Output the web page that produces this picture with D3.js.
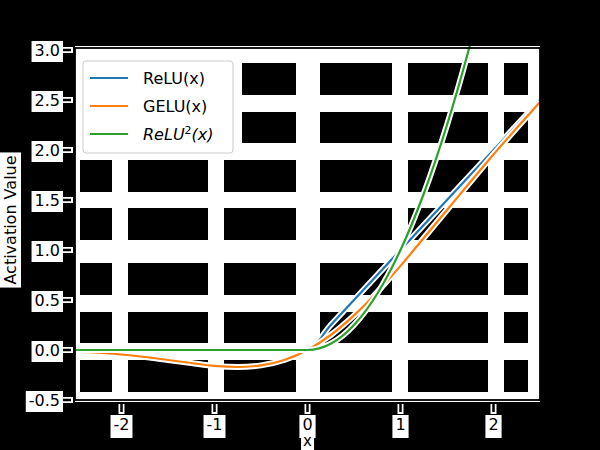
<!DOCTYPE html><html><head><script src="https://cdn.jsdelivr.net/npm/d3@7"></script>
<style>body{margin:0;background:#000}svg{display:block}text{font-family:"DejaVu Sans"}</style></head><body>
<script>
const xs=[-2.5,-2.25,-2,-1.75,-1.5,-1.25,-1,-0.75,-0.5,-0.25,0,0.25,0.5,0.75,1,1.25,1.5,1.75,2,2.25,2.5];
const relu=[0,0,0,0,0,0,0,0,0,0,0,0.25,0.5,0.75,1,1.25,1.5,1.75,2,2.25,2.5];
const gelu=[-0.016,-0.027,-0.045,-0.07,-0.10,-0.13,-0.159,-0.17,-0.154,-0.10,0,0.15,0.346,0.58,0.841,1.12,1.40,1.68,1.955,2.22,2.48];
const relu2=[0,0,0,0,0,0,0,0,0,0,0,0.0625,0.25,0.5625,1,1.5625,2.25,3.06,4,5.06,6.25];
const xTicks=[-2,-1,0,1,2], yTicks=[-0.5,0,0.5,1,1.5,2,2.5,3];
const seriesNames=["ReLU(x)","GELU(x)","ReLU²(x)"], colors=["#1f77b4","#ff7f0e","#2ca02c"];
const W=600,H=450,L=75,R=540,T=50,B=400;
const svg=d3.select("body").append("svg").attr("width",W).attr("height",H);
svg.append("rect").attr("width",W).attr("height",H).attr("fill","#000");
const x=d3.scaleLinear([-2.5,2.5],[L,R]), y=d3.scaleLinear([-0.5,3],[B,T]);
svg.append("rect").attr("x",L).attr("y",T-4).attr("width",R-L).attr("height",B-T+6).attr("fill","#fff");
const cols=[[80,112],[128,208],[224,296],[320,392],[408,488],[504,528]], rows=[[63,95],[112,143],[160,192],[208,240],[263,295],[312,343],[360,392]];
rows.forEach(r=>cols.forEach(c=>svg.append("rect").attr("x",c[0]).attr("y",r[0]).attr("width",c[1]-c[0]).attr("height",r[1]-r[0]).attr("fill","#000")));
svg.append("clipPath").attr("id","cp").append("rect").attr("x",L).attr("y",T-4).attr("width",R-L).attr("height",B-T+4);
const g=svg.append("g").attr("clip-path","url(#cp)");
const line=d3.line().x((d,i)=>x(xs[i])).y(d=>y(d)).curve(d3.curveMonotoneX);
[relu,gelu,relu2].forEach((s,k)=>{
 g.append("path").attr("d",line(s)).attr("fill","none").attr("stroke","#fff").attr("stroke-width",6);
 g.append("path").attr("d",line(s)).attr("fill","none").attr("stroke",colors[k]).attr("stroke-width",2.2);
});
svg.append("rect").attr("x",L).attr("y",T-2).attr("width",R-L).attr("height",B-T+2).attr("fill","none").attr("stroke","#000").attr("stroke-width",1.8);
xTicks.forEach(t=>{
 svg.append("rect").attr("x",x(t)-3).attr("y",B+4).attr("width",6).attr("height",10).attr("fill","#fff");
 svg.append("line").attr("x1",x(t)).attr("x2",x(t)).attr("y1",B+4).attr("y2",B+12).attr("stroke","#000").attr("stroke-width",2.5);
 const tx=svg.append("text").attr("x",x(t)).attr("y",B+30).attr("text-anchor","middle").attr("font-size",16).text(t<0?"-"+(-t):t);
 const bb=tx.node().getBBox();svg.insert("rect","text").attr("x",bb.x-3).attr("y",bb.y).attr("width",bb.width+6).attr("height",bb.height+4).attr("fill","#fff");
});
yTicks.forEach(t=>{
 svg.append("rect").attr("x",L-14).attr("y",y(t)-3).attr("width",12).attr("height",6).attr("fill","#fff");
 svg.append("line").attr("x1",L-12).attr("x2",L-4).attr("y1",y(t)).attr("y2",y(t)).attr("stroke","#000").attr("stroke-width",2.5);
 const tx=svg.append("text").attr("x",L-15).attr("y",y(t)+6).attr("text-anchor","end").attr("font-size",16).text(t<0?"-"+(-t).toFixed(1):t.toFixed(1));
 const bb=tx.node().getBBox();svg.insert("rect","text").attr("x",bb.x-3).attr("y",bb.y).attr("width",bb.width+6).attr("height",bb.height+2).attr("fill","#fff");
});
let xl=svg.append("text").attr("x",x(0)).attr("y",446).attr("text-anchor","middle").attr("font-size",15).text("x");
let b=xl.node().getBBox();svg.insert("rect","text").attr("x",b.x-2).attr("y",b.y).attr("width",b.width+4).attr("height",b.height).attr("fill","#fff");
let yl=svg.append("text").attr("transform",`translate(16,${(T+B)/2-5}) rotate(-90)`).attr("text-anchor","middle").attr("font-size",16).text("Activation Value");
b=yl.node().getBoundingClientRect();svg.insert("rect","text").attr("x",b.x-1).attr("y",b.y-3).attr("width",b.width+2).attr("height",b.height+6).attr("fill","#fff");
const lg=svg.append("g");
lg.append("rect").attr("x",78).attr("y",56).attr("width",164).attr("height",102).attr("fill","#fff");
lg.append("rect").attr("x",83).attr("y",61).attr("width",150).attr("height",92).attr("rx",3).attr("fill","#fff").attr("stroke","#ccc");
seriesNames.forEach((n,i)=>{
 const yy=78+i*28;
 lg.append("line").attr("x1",90).attr("x2",128).attr("y1",yy).attr("y2",yy).attr("stroke",colors[i]).attr("stroke-width",2.2);
 const t=lg.append("text").attr("x",143).attr("y",yy+6).attr("font-size",16);
 if(i<2)t.text(n);else{t.attr("font-style","italic");t.append("tspan").text("ReLU");t.append("tspan").attr("dy",-6).attr("font-size",11).attr("font-style","normal").text("2");t.append("tspan").attr("dy",6).text("(x)");}
});
</script></body></html>
